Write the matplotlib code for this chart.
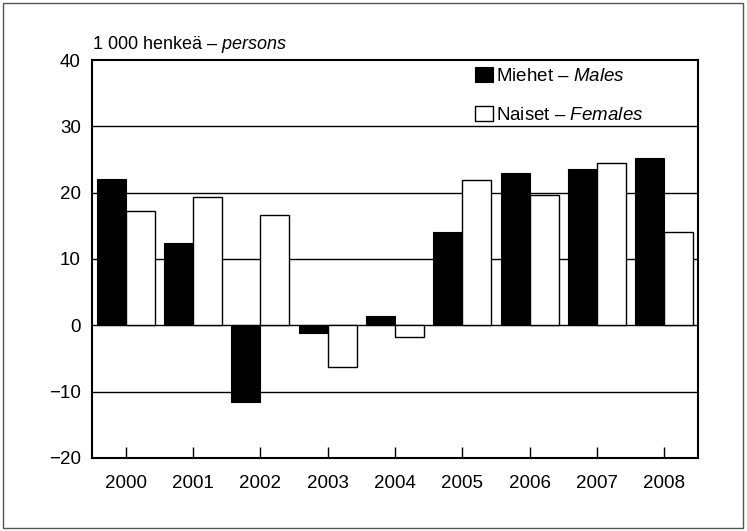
import matplotlib
matplotlib.use("Agg")
import matplotlib.pyplot as plt
import numpy as np
from matplotlib.patches import Rectangle

years = ["2000", "2001", "2002", "2003", "2004", "2005", "2006", "2007", "2008"]
males = [22.1, 12.4, -11.5, -1.2, 1.4, 14.1, 23.0, 23.6, 25.2]
females = [17.3, 19.3, 16.6, -6.3, -1.7, 21.9, 19.7, 24.5, 14.1]
yticks = [-20, -10, 0, 10, 20, 30, 40]

plt.rcParams['font.family'] = ['Liberation Sans', 'DejaVu Sans']
plt.rcParams['mathtext.fontset'] = 'custom'
plt.rcParams['mathtext.rm'] = 'Liberation Sans'
plt.rcParams['mathtext.it'] = 'Liberation Sans:italic'

fig = plt.figure(figsize=(7.47, 5.31), dpi=100)
ax = fig.add_axes([0.1232, 0.1375, 0.811, 0.7495])

x = np.arange(len(years))
w = 0.43
ax.bar(x - w / 2, males, w, color='black', edgecolor='black', linewidth=0.8,
       label='Miehet – $\\mathit{Males}$', zorder=3)
ax.bar(x + w / 2, females, w, color='white', edgecolor='black', linewidth=1.0,
       label='Naiset – $\\mathit{Females}$', zorder=3)

ax.set_xlim(-0.5, len(years) - 0.5)
ax.set_ylim(-20, 40)
ax.set_yticks(yticks)
ax.set_yticklabels(["\u221220", "\u221210", "0", "10", "20", "30", "40"])
ax.set_xticks(x)
ax.set_xticklabels(years)
for v in yticks[1:-1]:
    ax.axhline(v, color='black', linewidth=1.0, zorder=1)

ax.tick_params(axis='x', direction='in', length=8, width=1, labelsize=13.5, pad=12)
ax.tick_params(axis='y', length=0, labelsize=13.5, pad=8)
for s in ax.spines.values():
    s.set_linewidth(1.5)

ax.text(0.0, 1.012, '1 000 henkeä – $\\mathit{persons}$', transform=ax.transAxes,
        fontsize=13, ha='left', va='bottom')

leg = ax.legend(loc='upper left', bbox_to_anchor=(0.61, 1.015), frameon=False,
                fontsize=13.5, handlelength=1.0, handleheight=0.8,
                handletextpad=0.15, labelspacing=1.15, borderaxespad=0.3)

fig.patches.append(Rectangle((3 / 747, 3 / 531), 740 / 747, 525 / 531,
                             transform=fig.transFigure, fill=False,
                             edgecolor='#555555', linewidth=1.0))

fig.savefig('out.png', dpi=100)
